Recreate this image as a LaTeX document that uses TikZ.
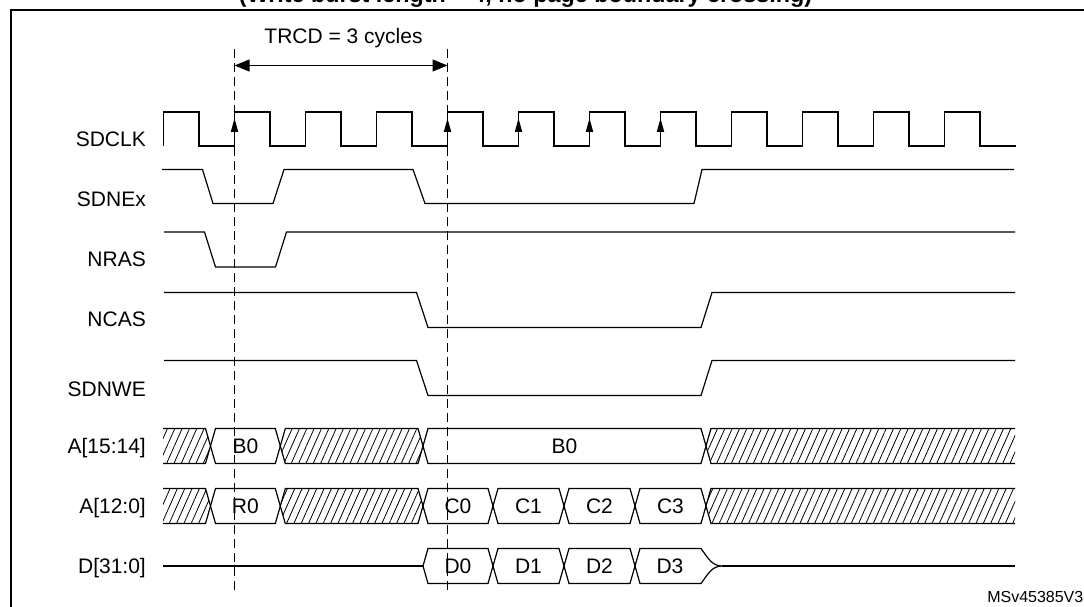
\documentclass[tikz,border=0pt]{standalone}
\usepackage{fontspec}
\usepackage{graphicx}
\setmainfont{Liberation Sans}
\usetikzlibrary{arrows.meta,patterns.meta}
% value box between two transitions: xa xb yt ym yb name text
\newcommand{\valbox}[7]{%
  \draw[wave] (#1,#4) -- ({#1+5},#3) -- ({#2-5},#3) -- (#2,#4) -- ({#2-5},#5) -- ({#1+5},#5) -- cycle;
  \node[val] (#6) at ({(#1+#2)/2},{#4+7.5}) {#7};}
% hatched box between two transitions: xa xb yt ym yb
\newcommand{\hatchbox}[5]{%
  \fill[hatch] (#1,#4) -- ({#1+5},#3) -- ({#2-5},#3) -- (#2,#4) -- ({#2-5},#5) -- ({#1+5},#5) -- cycle;
  \draw[wave] (#1,#4) -- ({#1+5},#3) -- ({#2-5},#3) -- (#2,#4) -- ({#2-5},#5) -- ({#1+5},#5) -- cycle;}
% hatched, open left end at 163, transition at #1: #1 yt ym yb
\newcommand{\hatchleft}[4]{%
  \fill[hatch] (163,#2) -- ({#1-5},#2) -- (#1,#3) -- ({#1-5},#4) -- (163,#4) -- cycle;
  \draw[wave] (163,#2) -- ({#1-5},#2) -- (#1,#3) -- ({#1-5},#4) -- (163,#4);}
% hatched, open right end at 1015, transition at #1
\newcommand{\hatchright}[4]{%
  \fill[hatch] (1015,#2) -- ({#1+5},#2) -- (#1,#3) -- ({#1+5},#4) -- (1015,#4) -- cycle;
  \draw[wave] (1015,#2) -- ({#1+5},#2) -- (#1,#3) -- ({#1+5},#4) -- (1015,#4);}
\begin{document}
\begin{tikzpicture}[x=1pt,y=-1pt,
  wave/.style={line width=1.2pt,line join=miter},
  lbl/.style={anchor=base east,inner sep=0pt,font=\fontsize{21}{25}\selectfont},
  val/.style={anchor=base,inner sep=0pt,font=\fontsize{21}{25}\selectfont},
  hatch/.style={pattern={Lines[angle=66,distance=6.7pt,line width=0.8pt]}},
  marker/.style={line width=1.1pt,dash pattern=on 9pt off 5pt},
  dimarrow/.style={line width=1.1pt,{Triangle[length=15pt,width=12pt]}-{Triangle[length=15pt,width=12pt]}}
]
\useasboundingbox (0,0) rectangle (1084,607);

% frame (cropped)
\draw[line width=2pt] (10.5,607) -- (10.5,10.5) -- (1084,10.5);

% cut-off title
\node[anchor=base,inner sep=0pt] (title) at (525.5,2.5)
  {\resizebox{573pt}{!}{\fontsize{20}{24}\selectfont\bfseries (Write burst length = 4, no page boundary crossing)}};

% TRCD markers
\coordinate (d1t) at (234.5,49);
\coordinate (d1b) at (234.5,592);
\coordinate (d2t) at (447.5,49);
\coordinate (d2b) at (447.5,592);
\draw[marker] (d1t) -- (d1b);
\draw[marker] (d2t) -- (d2b);
\coordinate (m1) at (234.5,65.5);
\coordinate (m2) at (447.5,65.5);
\draw[dimarrow] (m1) -- (m2);
\node[val] (trcd) at (343.5,43.3) {TRCD = 3 cycles};

% labels
\node[lbl] (lsdclk) at (146,146.5) {SDCLK};
\node[lbl] (lsdnex) at (146,206) {SDNEx};
\node[lbl] (lnras)  at (146,266) {NRAS};
\node[lbl] (lncas)  at (146,326.5) {NCAS};
\node[lbl] (lsdnwe) at (146,396.5) {SDNWE};
\node[lbl] (la1)    at (146,453.5) {A[15:14]};
\node[lbl] (la0)    at (146,513.5) {A[12:0]};
\node[lbl] (ld)     at (146,573.5) {D[31:0]};

% SDCLK
\draw[wave] (163.5,146) \foreach \k in {0,...,11} { -- ++(0,-34) -- ++(35.5,0) -- ++(0,34) -- ++(35.5,0) };
\foreach \x in {234.5,447.5,518.5,589.5,660.5}
  \fill (\x,118.5) -- ({\x-3.8},132) -- ({\x+3.8},132) -- cycle;

% control signals
\draw[wave] (162,169.5) -- (202.5,169.5) -- (213,203.5) -- (273,203.5) -- (284,169.5) -- (413,169.5) -- (425,203.5) -- (694,203.5) -- (702,169.5) -- (1014,169.5);
\draw[wave] (164,232) -- (204.5,232) -- (215.5,267) -- (275.5,267) -- (286.5,232) -- (1015,232);
\draw[wave] (164,292.5) -- (416.5,292.5) -- (428,327.5) -- (701,327.5) -- (712,292.5) -- (1015,292.5);
\draw[wave] (164,360.5) -- (416.5,360.5) -- (428,395.5) -- (701,395.5) -- (712,360.5) -- (1015,360.5);

% A[15:14]
\hatchleft{210.5}{428.5}{446}{463.5}
\valbox{210.5}{280.3}{428.5}{446}{463.5}{a1b0}{B0}
\hatchbox{280.3}{423}{428.5}{446}{463.5}
\valbox{423}{706}{428.5}{446}{463.5}{a1b0b}{B0}
\hatchright{706}{428.5}{446}{463.5}

% A[12:0]
\hatchleft{210.5}{488.5}{506}{523.5}
\valbox{210.5}{280.3}{488.5}{506}{523.5}{a0r0}{R0}
\hatchbox{280.3}{423}{488.5}{506}{523.5}
\valbox{423}{493}{488.5}{506}{523.5}{a0c0}{C0}
\valbox{493}{564}{488.5}{506}{523.5}{a0c1}{C1}
\valbox{564}{635}{488.5}{506}{523.5}{a0c2}{C2}
\valbox{635}{706}{488.5}{506}{523.5}{a0c3}{C3}
\hatchright{706}{488.5}{506}{523.5}

% D[31:0]
\coordinate (dl0) at (163,566);
\coordinate (dl1) at (423,566);
\draw[wave] (dl0) -- (dl1);
\valbox{423}{493}{548.5}{566}{583.5}{dd0}{D0}
\valbox{493}{564}{548.5}{566}{583.5}{dd1}{D1}
\valbox{564}{635}{548.5}{566}{583.5}{dd2}{D2}
\draw[wave] (635,566) -- (640,548.5) -- (701,548.5) .. controls (708,558) and (712,566) .. (722,566)
  .. controls (712,566) and (708,574) .. (701,583.5) -- (640,583.5) -- cycle;
\node[val] (dd3) at (670,573.5) {D3};
\coordinate (dl2) at (722,566);
\coordinate (dl3) at (1015,566);
\draw[wave] (dl2) -- (dl3);

% reference
\node[anchor=base east,inner sep=0pt,font=\fontsize{16}{19}\selectfont] (ref) at (1083.5,602.5) {MSv45385V3};
\end{tikzpicture}
\end{document}
